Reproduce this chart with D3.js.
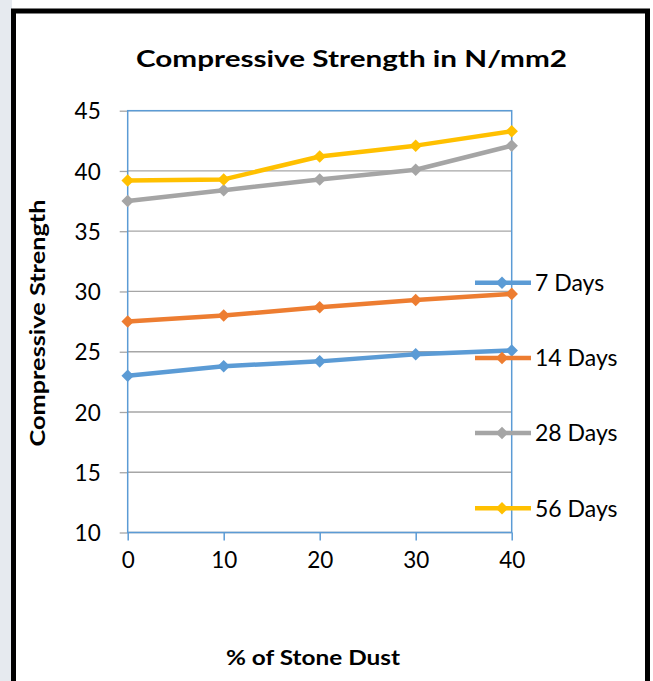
<!DOCTYPE html>
<html>
<head>
<meta charset="utf-8">
<script src="https://cdn.jsdelivr.net/npm/d3@7"></script>
<style>
  html, body { margin: 0; padding: 0; background: #ffffff; }
  svg { display: block; }
</style>
</head>
<body>
<svg id="chart" width="653" height="681"></svg>
<script>
// ---- data ----
const stoneDust = [0, 10, 20, 30, 40];
const days7  = [23.0, 23.8, 24.2, 24.8, 25.1];
const days14 = [27.5, 28.0, 28.7, 29.3, 29.8];
const days28 = [37.5, 38.4, 39.3, 40.1, 42.1];
const days56 = [39.2, 39.3, 41.2, 42.1, 43.3];
const seriesNames = ["7 Days", "14 Days", "28 Days", "56 Days"];
const yTicks = [10, 15, 20, 25, 30, 35, 40, 45];
const xTicks = [0, 10, 20, 30, 40];
const chartTitle = "Compressive Strength in N/mm2";
const yTitle = "Compressive  Strength";
const xTitle = "% of Stone Dust";

const colors = ["#5b9bd5", "#ed7d31", "#a5a5a5", "#ffc000"];
const seriesValues = [days7, days14, days28, days56];

const svg = d3.select("#chart");
const font = "Lato, 'Open Sans', 'DejaVu Sans', sans-serif";

// outside backdrop (faint watermark strip)
svg.append("rect").attr("x", 0).attr("y", 0).attr("width", 12).attr("height", 681).attr("fill", "#e6eaef");

// frame
svg.append("rect")
  .attr("x", 13.5).attr("y", 11).attr("width", 634).attr("height", 690)
  .attr("fill", "#ffffff").attr("stroke", "#000000").attr("stroke-width", 5);

const x = d3.scaleLinear().domain([0, 40]).range([127.7, 511.7]);
const y = d3.scaleLinear().domain([10, 45]).range([532.5, 110.7]);

// gridlines
svg.append("g").selectAll("line").data(yTicks).join("line")
  .attr("x1", x(0)).attr("x2", x(40))
  .attr("y1", d => y(d)).attr("y2", d => y(d))
  .attr("stroke", "#a6a6a6").attr("stroke-width", 1.3);

// y axis ticks + labels
const yAxis = d3.axisLeft(y).tickValues(yTicks).tickSize(8).tickPadding(19);
const gy = svg.append("g").attr("transform", `translate(${x(0)},0)`).call(yAxis);
gy.select(".domain").remove();
gy.selectAll(".tick line").attr("stroke", "#a6a6a6").attr("stroke-width", 1.3);
gy.selectAll(".tick text").attr("font-family", font).attr("font-size", 22.5).attr("fill", "#000")
  .attr("dy", "0.36em");

// x axis ticks + labels
const xAxis = d3.axisBottom(x).tickValues(xTicks).tickSize(8).tickPadding(12);
const gx = svg.append("g").attr("transform", `translate(0,${y(10)})`).call(xAxis);
gx.select(".domain").remove();
gx.selectAll(".tick line").attr("stroke", "#5b9bd5").attr("stroke-width", 1.5);
gx.selectAll(".tick text").attr("font-family", font).attr("font-size", 22.5).attr("fill", "#000")
  .attr("dy", "0.71em");

// plot border
svg.append("rect")
  .attr("x", x(0)).attr("y", y(45))
  .attr("width", x(40) - x(0)).attr("height", y(10) - y(45))
  .attr("fill", "none").attr("stroke", "#5b9bd5").attr("stroke-width", 1.5);

// series
const line = d3.line().x((d, i) => x(stoneDust[i])).y(d => y(d));
const diamond = d3.symbol().type(d3.symbolDiamond2).size(100);
seriesValues.forEach((vals, si) => {
  svg.append("path").datum(vals).attr("d", line)
    .attr("fill", "none").attr("stroke", colors[si]).attr("stroke-width", 4.5)
    .attr("stroke-linejoin", "round");
  svg.append("g").selectAll("path").data(vals).join("path")
    .attr("d", diamond)
    .attr("transform", (d, i) => `translate(${x(stoneDust[i])},${y(d)})`)
    .attr("fill", colors[si]);
});

// legend
const legY = d3.scaleLinear().domain([0, 3]).range([282.7, 508.3]);
const leg = svg.append("g");
seriesNames.forEach((name, i) => {
  const ly = legY(i);
  leg.append("line").attr("x1", 475).attr("x2", 531).attr("y1", ly).attr("y2", ly)
    .attr("stroke", colors[i]).attr("stroke-width", 4.5);
  leg.append("path").attr("d", diamond).attr("transform", `translate(502,${ly})`).attr("fill", colors[i]);
  leg.append("text").attr("x", 535).attr("y", ly).attr("dy", "0.36em")
    .attr("font-family", font).attr("font-size", 23).attr("fill", "#000").text(name);
});

// titles
svg.append("text").attr("x", 351.5).attr("y", 67).attr("text-anchor", "middle")
  .attr("font-family", font).attr("font-weight", "bold").attr("font-size", 22)
  .attr("textLength", 431).attr("lengthAdjust", "spacingAndGlyphs")
  .attr("fill", "#000").text(chartTitle);

svg.append("text").attr("transform", "translate(45,323) rotate(-90)").attr("text-anchor", "middle")
  .attr("font-family", font).attr("font-weight", "bold").attr("font-size", 20)
  .attr("textLength", 247).attr("lengthAdjust", "spacingAndGlyphs")
  .attr("fill", "#000").text(yTitle);

svg.append("text").attr("x", 313).attr("y", 665).attr("text-anchor", "middle")
  .attr("font-family", font).attr("font-weight", "bold").attr("font-size", 20)
  .attr("textLength", 174).attr("lengthAdjust", "spacingAndGlyphs")
  .attr("fill", "#000").text(xTitle);
</script>
</body>
</html>
